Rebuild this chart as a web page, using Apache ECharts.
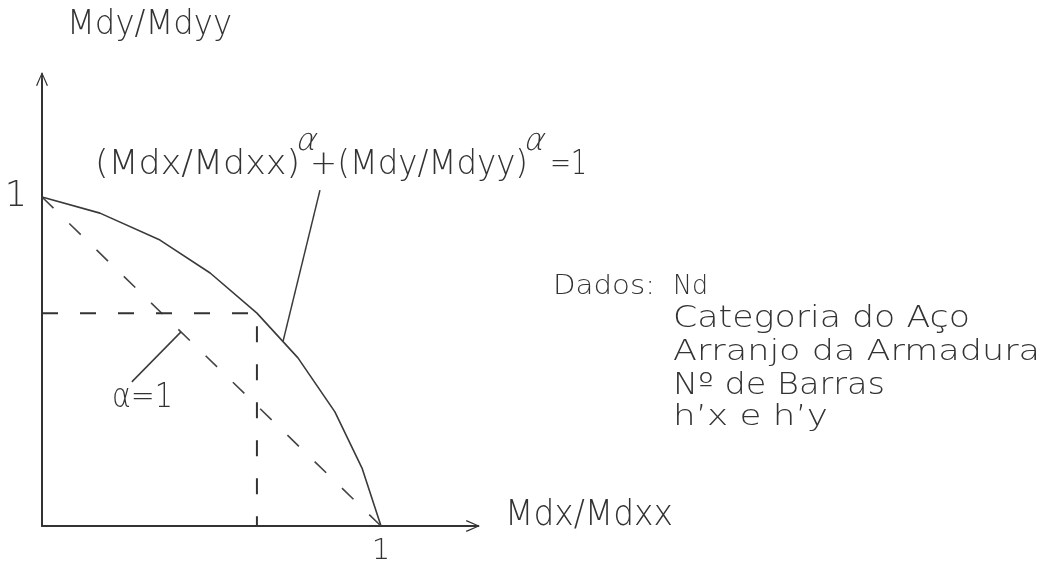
<!DOCTYPE html>
<html>
<head>
<meta charset="utf-8">
<script src="https://cdn.jsdelivr.net/npm/echarts@6/dist/echarts.min.js"></script>
<style>
  html, body { margin: 0; padding: 0; background: #fff; }
  #chart { width: 1047px; height: 563px; }
</style>
</head>
<body>
<div id="chart"></div>
<script>
// Interaction curve (Mdx/Mdxx)^α + (Mdy/Mdyy)^α = 1, sampled points
const curveX = [0, 0.171, 0.348, 0.496, 0.634, 0.755, 0.864, 0.944, 1];
const curveY = [1, 0.951, 0.869, 0.769, 0.647, 0.511, 0.347, 0.176, 0];

// Straight interaction line for α = 1
const linearX = [0, 1];
const linearY = [1, 0];

// Index of the curve point used for the dashed reference lines
const refIndex = 4;

// Leader lines: [x, y] pairs in axis units
const formulaLeader = [[0.711, 0.561], [0.820, 1.021]];
const alphaLeader = [[0.410, 0.590], [0.265, 0.438]];

// Tick labels shown on the axes
const xTickValues = [1];
const yTickValues = [1];

// Input data list
const inputHeader = 'Dados:';
const inputItems = ['Nd', 'Categoria do Aço', 'Arranjo da Armadura', 'Nº de Barras', 'h’x e h’y'];

const FONT_FAMILY = "'DejaVu Sans', sans-serif";
const FONT_WEIGHT = 200;
const INK = '#333';
const CAP = 0.729;

const measureCtx = document.createElement('canvas').getContext('2d');
function fontOf(size) {
  return FONT_WEIGHT + ' ' + size.toFixed(2) + 'px ' + FONT_FAMILY;
}
function textWidth(str, size) {
  measureCtx.font = fontOf(size);
  return measureCtx.measureText(str).width;
}
// Text placed by its cap box, stretched horizontally to span [left, right]
function capText(str, left, right, capTop, baseline) {
  const size = (baseline - capTop) / CAP;
  const w = textWidth(str, size);
  return {
    type: 'text',
    x: left,
    y: (capTop + baseline) / 2,
    scaleX: (right - left) / w,
    scaleY: 1,
    silent: true,
    style: {
      text: str,
      fill: INK,
      font: fontOf(size),
      align: 'left',
      verticalAlign: 'middle'
    }
  };
}
// slanted α exponent
function exponent(x, y, size) {
  return {
    type: 'text', x: x, y: y, silent: true,
    skewX: -0.3,
    style: {
      text: 'α', fill: INK,
      font: fontOf(size),
      align: 'left', verticalAlign: 'middle'
    }
  };
}

const pairs = (xs, ys) => xs.map((x, i) => [x, ys[i]]);

// Axis geometry (pixels)
const ORIGIN_X = 42, ORIGIN_Y = 526;
const UNIT_X = 339, UNIT_Y = 329;
const ARROW_LEN = 15;
const X_TIP = 480, Y_TIP = 72;
const xEnd = X_TIP - ARROW_LEN / 2;
const yEnd = Y_TIP + ARROW_LEN / 2;

// open arrow head with a stem, pointing up
const arrowPath = 'path://M6,0 L12,13.5 L10.8,14.1 L6,2.6 L1.2,14.1 L0,13.5 Z M5.1,1 L6.9,1 L6.9,15 L5.1,15 Z';

const chart = echarts.init(document.getElementById('chart'), null, { renderer: 'canvas' });

const lineBase = { type: 'line', symbol: 'none', silent: true, animation: false };

chart.setOption({
  animation: false,
  grid: {
    left: ORIGIN_X,
    top: yEnd,
    width: xEnd - ORIGIN_X,
    height: ORIGIN_Y - yEnd,
    outerBoundsMode: 'none',
    containLabel: false
  },
  xAxis: {
    type: 'value',
    min: 0,
    max: (xEnd - ORIGIN_X) / UNIT_X,
    splitLine: { show: false },
    axisTick: { show: false },
    axisLine: {
      show: true,
      onZero: false,
      symbol: ['none', arrowPath],
      symbolSize: [12, ARROW_LEN],
      lineStyle: { color: INK, width: 2 }
    },
    axisLabel: {
      customValues: xTickValues,
      formatter: v => String(v),
      color: INK,
      fontFamily: FONT_FAMILY,
      fontWeight: FONT_WEIGHT,
      fontSize: 29,
      margin: 11
    }
  },
  yAxis: {
    type: 'value',
    min: 0,
    max: (ORIGIN_Y - yEnd) / UNIT_Y,
    splitLine: { show: false },
    axisTick: { show: false },
    axisLine: {
      show: true,
      onZero: false,
      symbol: ['none', arrowPath],
      symbolSize: [12, ARROW_LEN],
      lineStyle: { color: INK, width: 2 }
    },
    axisLabel: {
      customValues: yTickValues,
      formatter: v => String(v),
      color: INK,
      fontFamily: FONT_FAMILY,
      fontWeight: FONT_WEIGHT,
      fontSize: 35,
      margin: 15,
      padding: [0, 0, 10, 0]
    }
  },
  series: [
    Object.assign({}, lineBase, {
      name: 'curva',
      data: pairs(curveX, curveY),
      lineStyle: { color: '#3a3a3a', width: 1.6 },
      z: 3
    }),
    Object.assign({}, lineBase, {
      name: 'alfa1',
      data: pairs(linearX, linearY),
      lineStyle: { color: '#444', width: 1.6, type: [16, 22] },
      z: 2
    }),
    Object.assign({}, lineBase, {
      name: 'referencia',
      data: [
        [0, curveY[refIndex]],
        [curveX[refIndex], curveY[refIndex]],
        [curveX[refIndex], 0]
      ],
      lineStyle: { color: '#333', width: 2, type: [16, 22] },
      z: 2
    }),
    Object.assign({}, lineBase, {
      name: 'chamada formula',
      data: formulaLeader,
      lineStyle: { color: '#3a3a3a', width: 1.5 },
      z: 3
    }),
    Object.assign({}, lineBase, {
      name: 'chamada alfa',
      data: alphaLeader,
      lineStyle: { color: '#3a3a3a', width: 1.5 },
      z: 3
    })
  ],
  graphic: [
    capText('Mdy/Mdyy', 67, 232, 13, 38),
    capText('Mdx/Mdxx', 505, 673, 503, 529),
    capText('(Mdx/Mdxx)', 95, 300, 153, 177),
    capText('+(Mdy/Mdyy)', 310, 528, 153, 177),
    capText('=1', 550, 587, 153, 177),
    exponent(297, 142, 31),
    exponent(525, 142, 31),
    capText('α=1', 112, 173, 386, 411),
    capText(inputHeader, 553, 655, 277, 297),
    capText(inputItems[0], 673, 708, 277, 297),
    capText(inputItems[1], 673, 970, 308, 330),
    capText(inputItems[2], 673, 1040, 342, 363),
    capText(inputItems[3], 673, 885, 375, 397),
    capText(inputItems[4], 673, 828, 407, 428)
  ]
});
</script>
</body>
</html>
